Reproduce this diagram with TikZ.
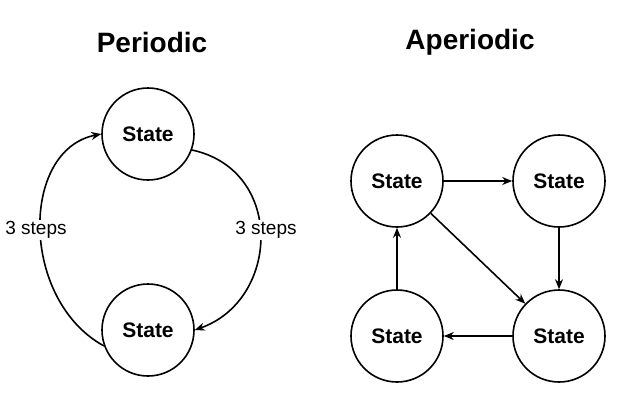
\documentclass[tikz,border=0pt]{standalone}
\usepackage{fontspec}
\setmainfont{Liberation Sans}
\usetikzlibrary{arrows.meta}
\begin{document}
\begin{tikzpicture}[x=1pt,y=-1pt,
  st/.style={circle,draw,line width=1.6pt,minimum size=92pt,inner sep=0pt,font=\fontsize{21}{24}\selectfont\bfseries},
  ar/.style={line width=1.6pt,-{Stealth[length=10pt,width=8pt]}},
  ttl/.style={font=\fontsize{28}{32}\selectfont\bfseries},
  lb/.style={font=\fontsize{19}{22}\selectfont,fill=white,inner sep=1pt}]
\useasboundingbox (0,0) rectangle (623,416);
\node[ttl] (t1) at (152,42) {Periodic};
\node[ttl] (t2) at (470,42) {Aperiodic};
\node[st] (a) at (148,134) {State};
\node[st] (b) at (148,330) {State};
\draw[ar] (b.200) .. controls (20,300) and (20,150) .. (a.180);
\draw[ar] (a.-20) .. controls (285,170) and (280,300) .. (b.0);
\node[lb] (l1) at (36,230) {3 steps};
\node[lb] (l2) at (266,230) {3 steps};
\node[st] (p) at (397,181) {State};
\node[st] (q) at (559,181) {State};
\node[st] (r) at (559,336) {State};
\node[st] (s) at (397,336) {State};
\draw[ar] (p) -- (q);
\draw[ar] (q) -- (r);
\draw[ar] (p) -- (r);
\draw[ar] (r) -- (s);
\draw[ar] (s) -- (p);
\end{tikzpicture}
\end{document}
